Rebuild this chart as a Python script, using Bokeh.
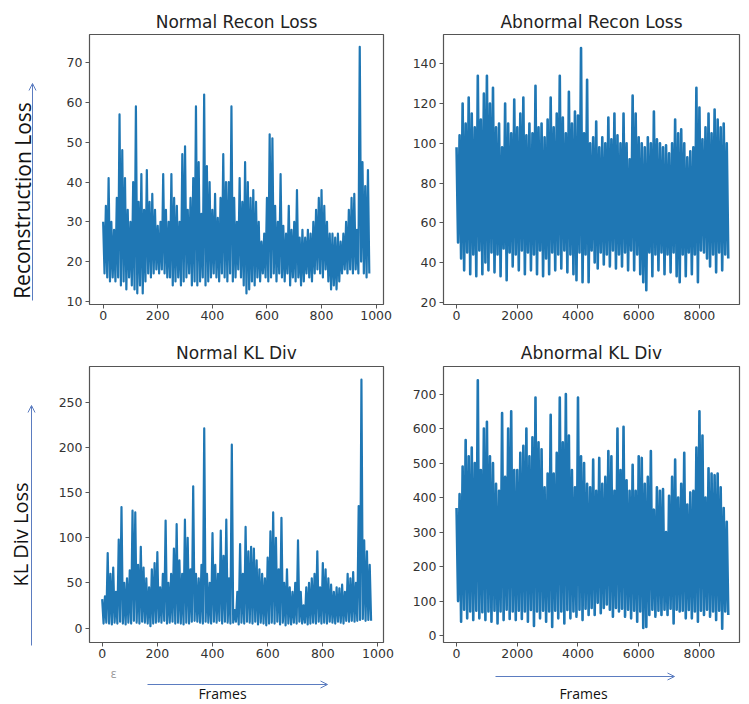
from bokeh.plotting import figure
from bokeh.models import Range1d, FixedTicker, Label, Arrow, OpenHead
from bokeh.layouts import column, row
from bokeh.embed import file_html
from bokeh.resources import INLINE

# ---------------- data ----------------
normal_frames = list(range(0, 980, 5))
abnormal_frames = list(range(0, 9000, 50))

# Normal Recon Loss: peaks / troughs every 10 frames
nr_hi = [30, 34, 41, 30, 28, 36, 57, 48, 41, 33,
         30, 40, 59, 35, 42, 33, 43, 35, 37, 33,
         29, 30, 42, 33, 30, 42, 36, 34, 30, 47,
         49, 33, 36, 41, 59, 45, 32, 62, 44, 40,
         33, 37, 31, 36, 47, 40, 40, 59, 36, 30,
         41, 35, 45, 40, 36, 38, 35, 30, 25, 27,
         36, 52, 51, 34, 30, 42, 29, 27, 34, 28,
         30, 38, 26, 28, 26, 28, 27, 30, 33, 36,
         38, 34, 30, 27, 27, 26, 27, 25, 27, 30,
         33, 36, 37, 28, 74, 45, 39, 43]
nr_lo = [17, 16, 15, 16, 15, 16, 14, 15, 13, 16,
         14, 13, 12, 14, 12, 15, 17, 16, 17, 18,
         17, 18, 17, 16, 16, 14, 15, 16, 14, 15,
         16, 17, 14, 15, 14, 15, 16, 14, 15, 16,
         17, 16, 15, 17, 16, 15, 17, 15, 16, 18,
         16, 14, 12, 13, 15, 14, 16, 15, 17, 16,
         15, 16, 17, 15, 17, 16, 15, 17, 14, 16,
         15, 16, 14, 15, 17, 16, 15, 17, 18, 17,
         16, 18, 15, 13, 14, 13, 15, 17, 18, 17,
         18, 17, 18, 17, 20, 17, 16, 17]

# Normal KL Div
nk_hi = [32, 35, 83, 60, 67, 40, 98, 134, 50, 55,
         64, 130, 128, 70, 90, 67, 55, 45, 65, 72,
         84, 45, 60, 119, 50, 60, 88, 115, 75, 60,
         120, 100, 65, 157, 60, 55, 70, 221, 60, 50,
         105, 70, 60, 108, 80, 120, 55, 203, 20, 40,
         93, 60, 112, 85, 90, 88, 75, 65, 60, 55,
         78, 107, 128, 100, 65, 122, 50, 65, 45, 40,
         50, 97, 40, 25, 45, 50, 55, 60, 85, 45,
         72, 65, 55, 48, 40, 45, 44, 48, 40, 60,
         55, 62, 50, 135, 275, 97, 85, 70]
nk_lo = [5, 6, 5, 4, 6, 5, 7, 5, 4, 6,
         5, 8, 6, 5, 7, 6, 5, 2, 5, 6,
         7, 6, 8, 5, 6, 7, 5, 6, 5, 4,
         6, 5, 7, 8, 7, 6, 5, 7, 6, 5,
         7, 6, 8, 5, 7, 6, 5, 6, 7, 4,
         6, 5, 7, 6, 5, 7, 4, 6, 5, 3,
         5, 6, 5, 7, 4, 6, 3, 5, 4, 6,
         5, 7, 5, 6, 4, 5, 6, 5, 7, 5,
         6, 5, 7, 6, 5, 7, 6, 5, 8, 7,
         8, 7, 8, 9, 10, 8, 9, 8]

# Abnormal Recon Loss: peaks / troughs every 100 frames
ar_hi = [98, 104, 120, 110, 123, 115, 108, 134, 112, 125,
         134, 120, 128, 108, 110, 98, 120, 110, 105, 122,
         108, 115, 123, 104, 110, 105, 129, 108, 110, 103,
         112, 123, 108, 115, 134, 113, 105, 126, 110, 116,
         114, 148, 105, 132, 100, 103, 111, 98, 103, 100,
         113, 102, 115, 104, 100, 115, 100, 92, 124, 115,
         103, 100, 98, 103, 100, 116, 102, 100, 98, 99,
         95, 100, 112, 105, 107, 100, 93, 96, 98, 128,
         118, 102, 108, 115, 105, 117, 112, 108, 110, 100]
ar_lo = [50, 42, 36, 45, 34, 44, 33, 46, 34, 40,
         36, 45, 35, 44, 33, 47, 31, 45, 38, 44,
         36, 46, 34, 45, 36, 44, 34, 46, 33, 42,
         34, 45, 36, 44, 37, 46, 35, 44, 34, 31,
         45, 30, 44, 30, 46, 40, 37, 45, 39, 44,
         38, 46, 37, 44, 38, 45, 36, 46, 36, 44,
         34, 30, 26, 45, 33, 44, 36, 45, 34, 44,
         35, 45, 33, 30, 44, 33, 45, 34, 44, 30,
         46, 45, 42, 38, 44, 35, 45, 36, 44, 42]

# Abnormal KL Div
ak_hi = [370, 410, 490, 567, 520, 545, 500, 740, 480, 600,
         620, 520, 500, 440, 420, 645, 460, 600, 650, 480,
         480, 530, 550, 600, 520, 575, 690, 560, 540, 430,
         470, 640, 470, 530, 690, 560, 700, 580, 480, 430,
         690, 520, 500, 440, 430, 510, 420, 515, 440, 460,
         535, 520, 420, 600, 480, 605, 450, 420, 495, 420,
         520, 515, 440, 460, 535, 365, 430, 420, 425, 300,
         405, 460, 510, 400, 440, 530, 380, 415, 420, 545,
         650, 580, 400, 485, 470, 465, 470, 430, 370, 330]
ak_lo = [100, 40, 75, 50, 70, 45, 72, 50, 68, 45,
         70, 40, 72, 35, 70, 45, 75, 48, 70, 45,
         72, 48, 70, 40, 74, 28, 70, 50, 72, 40,
         70, 25, 72, 50, 70, 35, 74, 50, 70, 55,
         75, 45, 78, 60, 80, 60, 95, 65, 80, 90,
         75, 55, 80, 70, 78, 55, 75, 50, 72, 40,
         70, 22, 25, 60, 75, 55, 72, 60, 75, 60,
         78, 35, 75, 70, 72, 50, 74, 50, 70, 40,
         72, 60, 75, 55, 70, 45, 72, 20, 70, 60]

normal_ticks = [0, 200, 400, 600, 800, 1000]
abnormal_ticks = [0, 2000, 4000, 6000, 8000]
nr_yticks = [10, 20, 30, 40, 50, 60, 70]
ar_yticks = [20, 40, 60, 80, 100, 120, 140]
nk_yticks = [0, 50, 100, 150, 200, 250]
ak_yticks = [0, 100, 200, 300, 400, 500, 600, 700]


def interleave(hi, lo):
    out = []
    for a, b in zip(hi, lo):
        out.extend([a, b])
    return out


BLUE = "#1f77b4"
ARROW = "#5b7cc0"
TXT = "#333333"
DARK = "#111111"


def panel(title, w, h, L, R, T, B, xr, yr, xticks, yticks, standoff):
    p = figure(width=w, height=h, x_range=Range1d(*xr), y_range=Range1d(*yr),
               output_backend="svg", toolbar_location=None,
               min_border_left=L, min_border_right=R,
               min_border_top=T, min_border_bottom=B, title=title)
    p.title.align = "center"
    p.title.text_font = "DejaVu Sans"
    p.title.text_font_size = "17px"
    p.title.text_font_style = "normal"
    p.title.text_color = "#222222"
    p.title.standoff = standoff
    p.grid.visible = False
    p.outline_line_color = "#555555"
    p.outline_line_width = 1.2
    p.background_fill_color = "white"
    p.border_fill_color = "white"
    for ax in (p.xaxis[0], p.yaxis[0]):
        ax.axis_line_color = None
        ax.major_tick_line_color = "#555555"
        ax.major_tick_out = 4
        ax.major_tick_in = 0
        ax.minor_tick_line_color = None
        ax.major_label_text_font = "DejaVu Sans"
        ax.major_label_text_font_size = "12.5px"
        ax.major_label_text_color = TXT
    p.xaxis[0].ticker = FixedTicker(ticks=xticks)
    p.yaxis[0].ticker = FixedTicker(ticks=yticks)
    p.xaxis[0].major_label_standoff = 2
    p.yaxis[0].major_label_standoff = 3
    return p


def strip(w, h, x0, y0):
    # a blank helper canvas whose data coordinates equal page pixels
    s = figure(width=w, height=h, x_range=Range1d(x0, x0 + w), y_range=Range1d(y0 + h, y0),
               output_backend="svg", toolbar_location=None,
               x_axis_type=None, y_axis_type=None, min_border=0)
    s.grid.visible = False
    s.outline_line_color = None
    s.background_fill_color = "white"
    s.border_fill_color = "white"
    return s


def label(fig, x, y, text, size, font="Open Sans", angle=0.0, color=DARK):
    fig.add_layout(Label(x=x, y=y, text=text, angle=angle, text_align="center",
                         text_baseline="middle", text_font_size=size,
                         text_font=font, text_color=color))


def arrow(fig, x0, y0, x1, y1):
    fig.add_layout(Arrow(end=OpenHead(size=7, line_color=ARROW, line_width=1),
                         x_start=x0, y_start=y0, x_end=x1, y_end=y1,
                         line_color=ARROW, line_width=1))


tl = panel("Normal Recon Loss", 350, 337, 39, 17, 34, 33, (-50, 1027), (9.2, 77.1),
           normal_ticks, nr_yticks, 6)
tr = panel("Abnormal Recon Loss", 349, 337, 43, 10, 34, 33, (-430, 9320), (18.8, 154.8),
           abnormal_ticks, ar_yticks, 6)
bl = panel("Normal KL Div", 350, 328, 39, 17, 27, 23, (-46, 1020), (-16, 289.6),
           normal_ticks, nk_yticks, 7)
br = panel("Abnormal KL Div", 349, 328, 43, 10, 27, 23, (-430, 9320), (-20, 780),
           abnormal_ticks, ak_yticks, 7)

tl.line(normal_frames, interleave(nr_hi, nr_lo), line_color=BLUE, line_width=2.2, line_join="round")
bl.line(normal_frames, interleave(nk_hi, nk_lo), line_color=BLUE, line_width=2.2, line_join="round")
tr.line(abnormal_frames, interleave(ar_hi, ar_lo), line_color=BLUE, line_width=2.6, line_join="round")
br.line(abnormal_frames, interleave(ak_hi, ak_lo), line_color=BLUE, line_width=2.6, line_join="round")

PI2 = 1.5707963

left = strip(50, 704, 0, 0)
label(left, 22, 200, "Reconstruction Loss", "21px", angle=PI2)
arrow(left, 32, 300, 32, 83)
label(left, 20, 534, "KL Div Loss", "20px", angle=PI2)
arrow(left, 31, 645, 31, 405)

bottom = strip(699, 39, 50, 665)
label(bottom, 222, 693, "Frames", "14px")
arrow(bottom, 147, 684, 327, 684)
label(bottom, 113, 673, "ε", "12px", color="#999999")
label(bottom, 583, 693, "Frames", "14px")
arrow(bottom, 495, 676, 674, 676)

layout = row(left, column(row(tl, tr), row(bl, br), bottom))
open("out.html", "w").write(file_html(layout, INLINE))
